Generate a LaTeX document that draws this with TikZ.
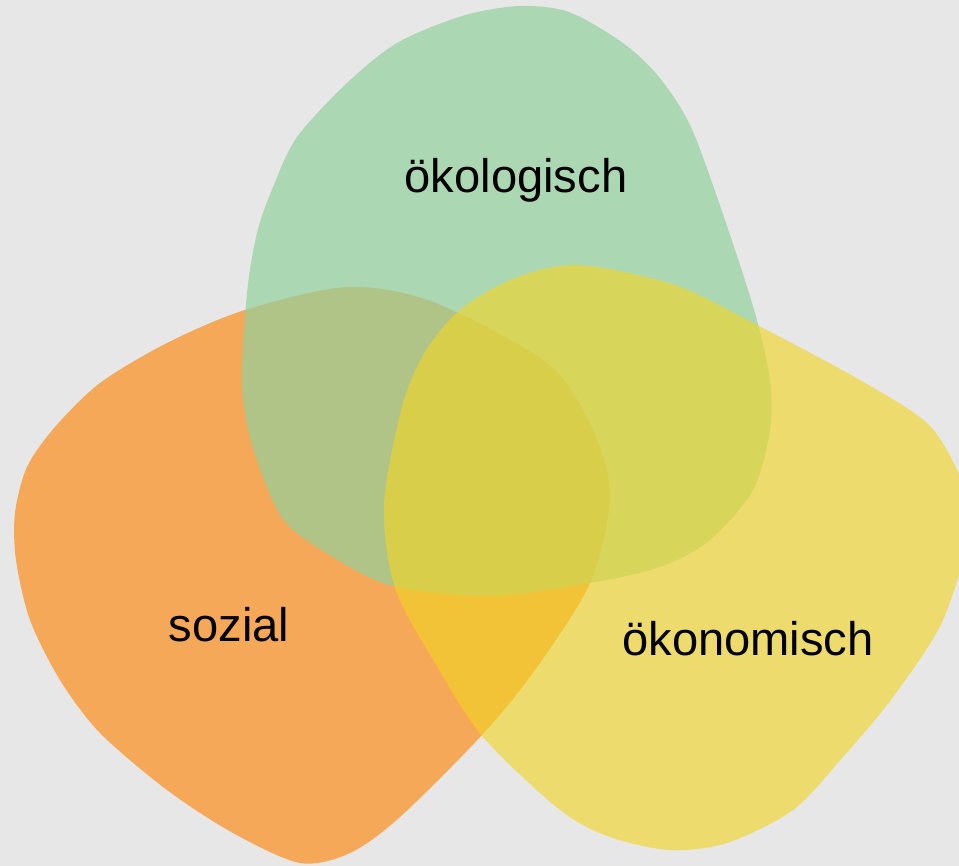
\documentclass[tikz,border=0pt]{standalone}
\usepackage{fontspec}
\setmainfont{Liberation Sans}
\definecolor{bggray}{RGB}{231,231,231}
\definecolor{sozorange}{RGB}{245,168,87}
\definecolor{oekogreen}{RGB}{146,209,157}
\definecolor{oekonyellow}{RGB}{242,213,36}
\tikzset{
  sozblob/.style={fill=sozorange},
  oekoblob/.style={fill=oekogreen, fill opacity=0.69},
  oekonblob/.style={fill=oekonyellow, fill opacity=0.62},
  blobtext/.style={font=\fontsize{13.4}{16}\selectfont, anchor=base, inner sep=0pt}
}
\begin{document}
\begin{tikzpicture}[x=0.01cm, y=-0.01cm]
\fill[bggray] (0,0) rectangle (959,866);
\clip (0,0) rectangle (959,866);

% sozial
\fill[sozblob] plot[smooth cycle] coordinates {(347,287) (433,302) (547,363) (593,430) (610,497) (590,583) (535,670) (482,735) (400,817) (350,853) (300,863) (233,833) (167,790) (100,733) (60,680) (30,620) (16,560) (15,513) (27,467) (55,427) (100,383) (167,343) (245,310)};
% oekologisch
\fill[oekoblob] plot[smooth cycle] coordinates {(519,6) (569,12) (623,43) (659,77) (691,127) (725,220) (755,313) (770,380) (770,430) (753,490) (710,540) (660,567) (590,583) (491,596) (393,586) (333,557) (283,519) (253,448) (242,385) (247,293) (257,233) (273,187) (297,137) (347,83) (397,43) (462,16)};
% oekonomisch
\fill[oekonblob] plot[smooth cycle] coordinates {(579,265) (675,285) (757,325) (860,380) (927,423) (957,470) (972,520) (943,620) (893,697) (843,757) (793,810) (727,843) (670,850) (610,837) (560,810) (483,737) (435,663) (395,588) (384,505) (402,407) (425,352) (461,309) (515,278)};

\node[blobtext] (oeko) at (516,192) {ökologisch};
\node[blobtext] (soz) at (229,641) {sozial};
\node[blobtext] (oekon) at (748,655) {ökonomisch};
\end{tikzpicture}
\end{document}
